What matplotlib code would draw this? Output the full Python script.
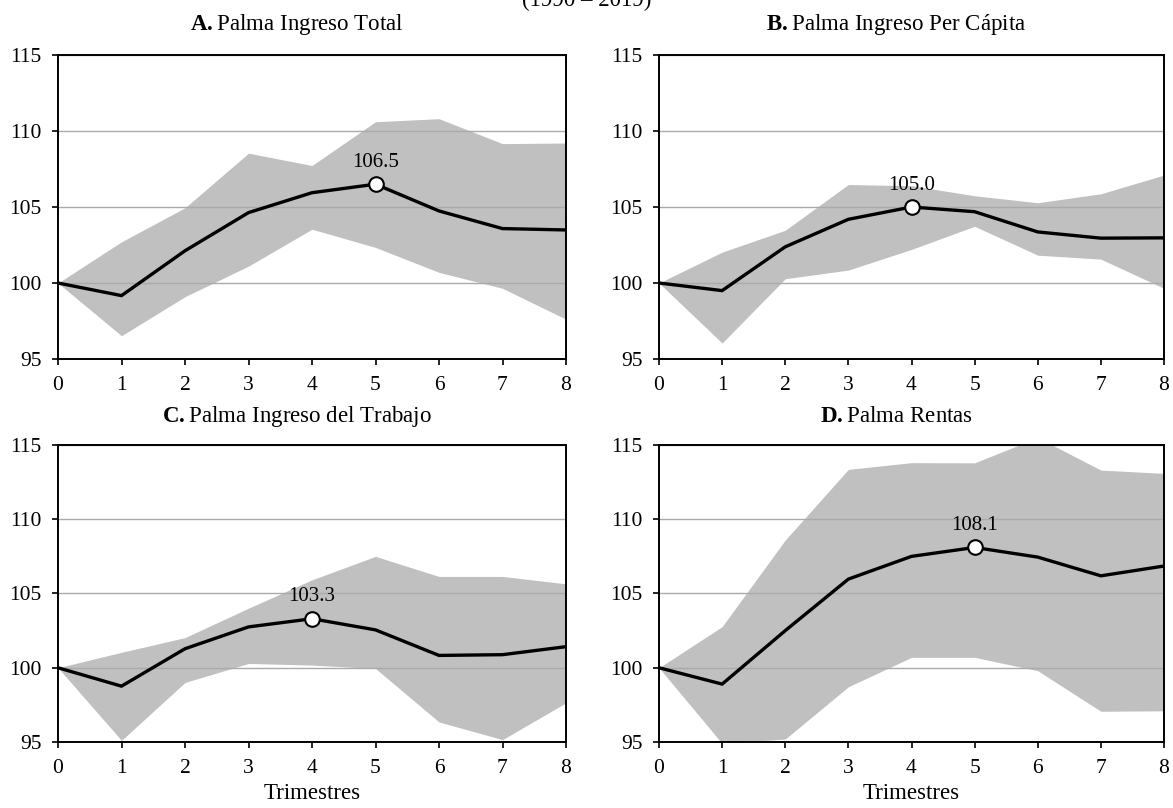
import matplotlib
matplotlib.use('Agg')
import matplotlib.pyplot as plt

plt.rcParams['font.family'] = ['Liberation Serif', 'DejaVu Serif']
plt.rcParams['mathtext.fontset'] = 'custom'
plt.rcParams['mathtext.rm'] = 'Liberation Serif'
plt.rcParams['mathtext.bf'] = 'Liberation Serif:bold'

# trimestres
quarters = [0, 1, 2, 3, 4, 5, 6, 7, 8]

# A. Palma Ingreso Total
a_mid = [100, 99.17, 102.12, 104.63, 105.94, 106.5, 104.74, 103.58, 103.49]
a_up = [100, 102.71, 104.95, 108.54, 107.73, 110.61, 110.81, 109.17, 109.21]
a_lo = [100, 96.53, 99.10, 101.11, 103.54, 102.34, 100.70, 99.65, 97.62]

# B. Palma Ingreso Per Capita
b_mid = [100, 99.50, 102.38, 104.19, 105.0, 104.69, 103.36, 102.95, 102.97]
b_up = [100, 102.03, 103.47, 106.48, 106.40, 105.74, 105.28, 105.87, 107.10]
b_lo = [100, 96.05, 100.28, 100.85, 102.21, 103.73, 101.83, 101.57, 99.65]

# C. Palma Ingreso del Trabajo
c_mid = [100, 98.76, 101.28, 102.75, 103.3, 102.55, 100.83, 100.88, 101.42]
c_up = [100, 101.04, 102.03, 104.01, 105.92, 107.50, 106.15, 106.15, 105.65]
c_lo = [100, 95.11, 99.01, 100.29, 100.18, 99.95, 96.35, 95.16, 97.64]

# D. Palma Rentas
d_mid = [100, 98.90, 102.50, 105.97, 107.50, 108.1, 107.45, 106.19, 106.85]
d_up = [100, 102.77, 108.60, 113.36, 113.81, 113.80, 115.50, 113.31, 113.09]
d_lo = [100, 94.90, 95.20, 98.72, 100.70, 100.70, 99.80, 97.07, 97.10]

letters = ['A.', 'B.', 'C.', 'D.']
names = ['Palma Ingreso Total', 'Palma Ingreso Per Cápita',
         'Palma Ingreso del Trabajo', 'Palma Rentas']
peaks = [5, 4, 4, 5]
mids = [a_mid, b_mid, c_mid, d_mid]
ups = [a_up, b_up, c_up, d_up]
los = [a_lo, b_lo, c_lo, d_lo]

W, H = 1173, 808
fig = plt.figure(figsize=(W/100, H/100), dpi=100)

#axes boxes in pixels: left, top, right, bottom
boxes = [(58, 55, 566, 359), (659, 55, 1164, 359),
         (58, 445, 566, 742), (659, 445, 1164, 742)]

for i in range(4):
    l, t, r, b = boxes[i]
    ax = fig.add_axes([l/W, 1-b/H, (r-l)/W, (b-t)/H])
    ax.fill_between(quarters, los[i], ups[i], color='#c0c0c0', lw=0, zorder=1)
    ax.plot(quarters, mids[i], color='black', lw=2.4, zorder=3,
            solid_joinstyle='miter')
    p = peaks[i]
    ax.plot(quarters[p], mids[i][p], 'o', ms=10.5, mfc='white', mec='black',
            mew=1.5, zorder=4)
    ax.annotate('%.1f' % mids[i][p], (quarters[p], mids[i][p]),
                xytext=(0, 9), textcoords='offset points',
                ha='center', va='bottom', fontsize=15)
    ax.set_xlim(0, 8)
    ax.set_ylim(95, 115)
    ax.set_xticks(quarters)
    ax.set_yticks([95, 100, 105, 110, 115])
    ax.yaxis.grid(True, color='#aaaaaa', lw=1, zorder=2)
    ax.set_axisbelow(False)
    ax.tick_params(direction='out', length=4.5, width=1.2, labelsize=15.5)
    ax.tick_params(axis='x', pad=7.5)
    ax.tick_params(axis='y', pad=7.5)
    for s in ax.spines.values():
        s.set_linewidth(1.4)
        s.set_zorder(5)
    # bold letter, then the name
    ax.set_title(r'$\mathbf{%s}$Palma%s' % (letters[i], names[i][5:]),
                 fontsize=16.5, x=0.47, pad=18 if i < 2 else 16.5)
    if i >= 2:
        ax.set_xlabel('Trimestres', fontsize=16.5, labelpad=3.5)

fig.text(0.5, 1 - 6/H, '(1990 – 2019)', ha='center', va='baseline', fontsize=16.5)

plt.savefig('out.png', dpi=100)
